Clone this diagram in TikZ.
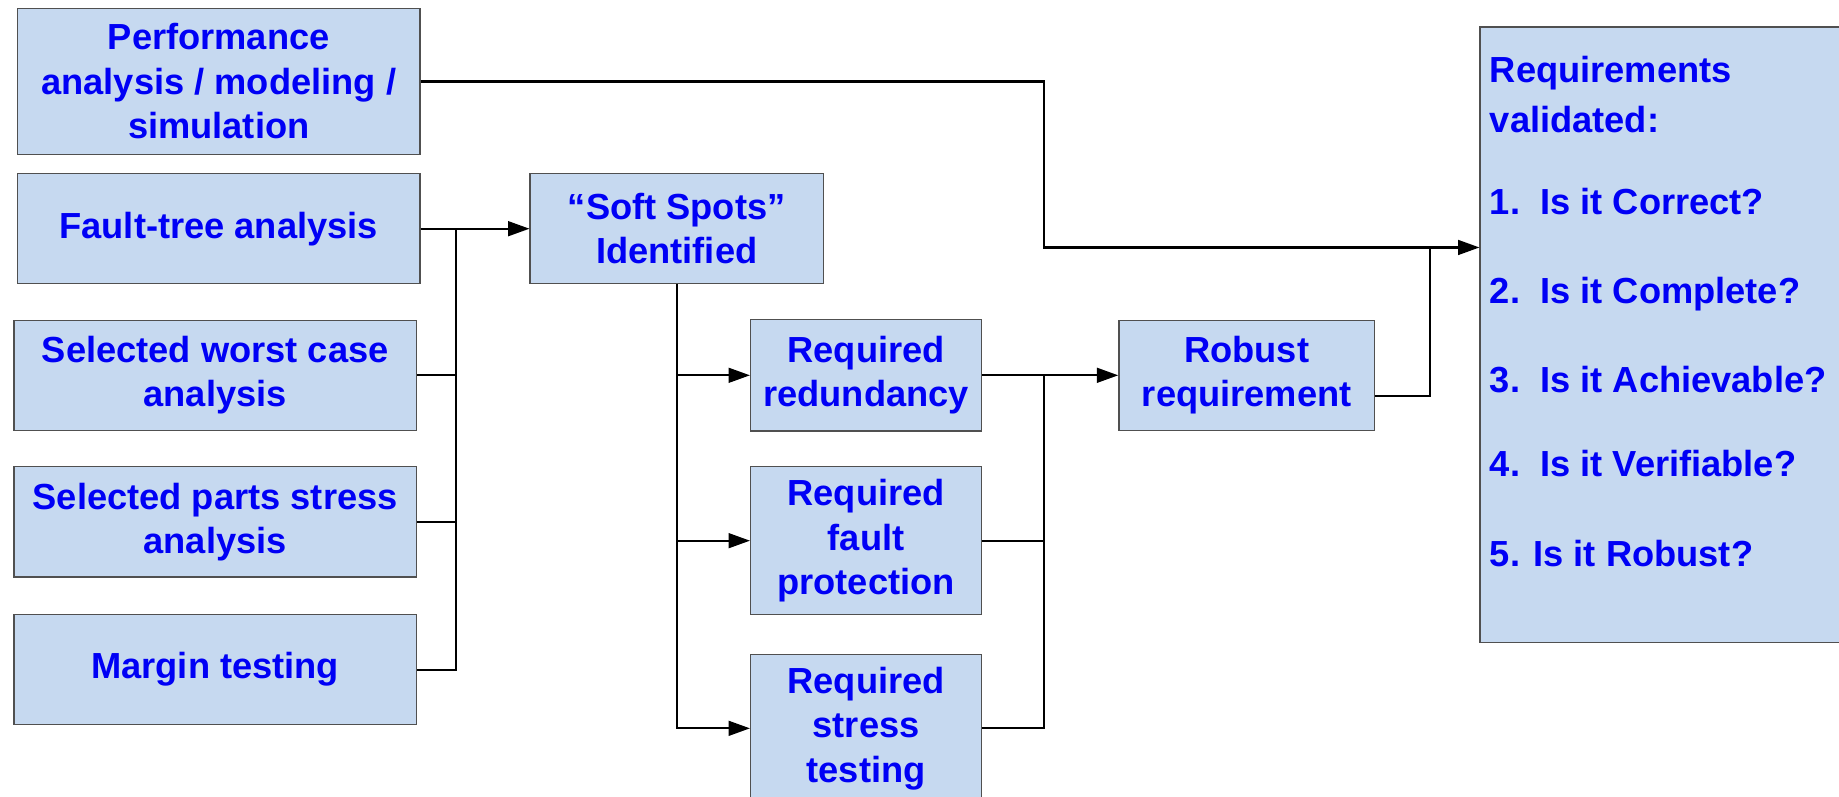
\documentclass[tikz,border=0pt]{standalone}
\usepackage{fontspec}
\setmainfont{Liberation Sans}
\usetikzlibrary{arrows.meta}
\definecolor{boxfill}{HTML}{C6D9F0}
\definecolor{boxtext}{HTML}{0000F5}
\definecolor{boxline}{HTML}{505050}

\begin{document}
\begin{tikzpicture}[
    block/.style={draw=boxline, line width=0.8pt, fill=boxfill, text=boxtext,
                  font=\bfseries\fontsize{22}{27}\selectfont, align=center, inner sep=0pt},
    listtext/.style={text=boxtext, font=\bfseries\fontsize{22}{27}\selectfont,
                  align=left, inner sep=0pt},
    wire/.style={line width=1.3pt},
    feed/.style={wire, -{Triangle[length=13pt,width=9pt]}}
  ]
  \useasboundingbox (0,0) rectangle (39.2,-16.975);
  \clip (0,0) rectangle (39.2,-16.975);

  % Drawing the analysis boxes on the left
  \node (perf) [block, minimum width=8.575cm, minimum height=3.125cm] at (4.6625,-1.7375)
    {Performance\\analysis / modeling /\\simulation};
  \node (fault) [block, minimum width=8.575cm, minimum height=2.35cm] at (4.6625,-4.875)
    {Fault-tree analysis};
  \node (worst) [block, minimum width=8.575cm, minimum height=2.35cm] at (4.5875,-8.0)
    {Selected worst case\\analysis};
  \node (parts) [block, minimum width=8.575cm, minimum height=2.35cm] at (4.5875,-11.125)
    {Selected parts stress\\analysis};
  \node (margin) [block, minimum width=8.575cm, minimum height=2.35cm] at (4.5875,-14.275)
    {Margin testing};

  % Drawing the soft spot box and what it requires
  \node (soft) [block, minimum width=6.25cm, minimum height=2.35cm] at (14.425,-4.875)
    {“Soft Spots”\\Identified};
  \node (redund) [block, minimum width=4.925cm, minimum height=2.375cm] at (18.4625,-8.0)
    {Required\\redundancy};
  \node (faultprot) [block, minimum width=4.925cm, minimum height=3.15cm] at (18.4625,-11.525)
    {Required\\fault\\protection};
  \node (stress) [block, minimum width=4.925cm, minimum height=3.15cm] at (18.4625,-15.525)
    {Required\\stress\\testing};

  % Drawing box robust requirement
  \node (robust) [block, minimum width=5.45cm, minimum height=2.35cm] at (26.575,-8.0)
    {Robust\\requirement};

  % Drawing the validation box on the right
  \node (req) [block, minimum width=8.45cm, minimum height=13.125cm] at (35.775,-7.1375) {};
  \node (reqlist) [listtext, anchor=north west] at (31.75,-1.2)
    {Requirements\\[3pt]
     validated:\\[23pt]
     1.~~Is it Correct?\\[27pt]
     2.~~Is it Complete?\\[27pt]
     3.~~Is it Achievable?\\[24pt]
     4.~~Is it Verifiable?\\[27pt]
     5. Is it Robust?};

  % Junction points of the connectors
  \coordinate (busL) at (9.725,-4.875);
  \coordinate (busR) at (22.25,-8.0);
  \coordinate (perfturn) at (22.25,-5.275);
  \coordinate (robustup) at (30.475,-5.275);

  % Drawing connectors into the soft spot box
  \draw [feed] (fault.east) -- (soft.west);
  \draw [wire] (worst.east) -| (busL);
  \draw [wire] (parts.east) -| (busL);
  \draw [wire] (margin.east) -| (busL);

  % Drawing connectors out of the soft spot box
  \draw [feed] (soft.south) |- (stress.west);
  \draw [feed] (soft.south |- redund.west) -- (redund.west);
  \draw [feed] (soft.south |- faultprot.west) -- (faultprot.west);

  % Drawing connectors into box robust requirement
  \draw [feed] (redund.east) -- (robust.west);
  \draw [wire] (faultprot.east) -| (busR);
  \draw [wire] (stress.east) -| (busR);

  % Drawing connectors into the validation box
  \draw [feed] (perf.east) -| (perfturn) -- (perfturn -| req.west);
  \draw [wire] ([yshift=-0.45cm]robust.east) -| (robustup);
\end{tikzpicture}
\end{document}
